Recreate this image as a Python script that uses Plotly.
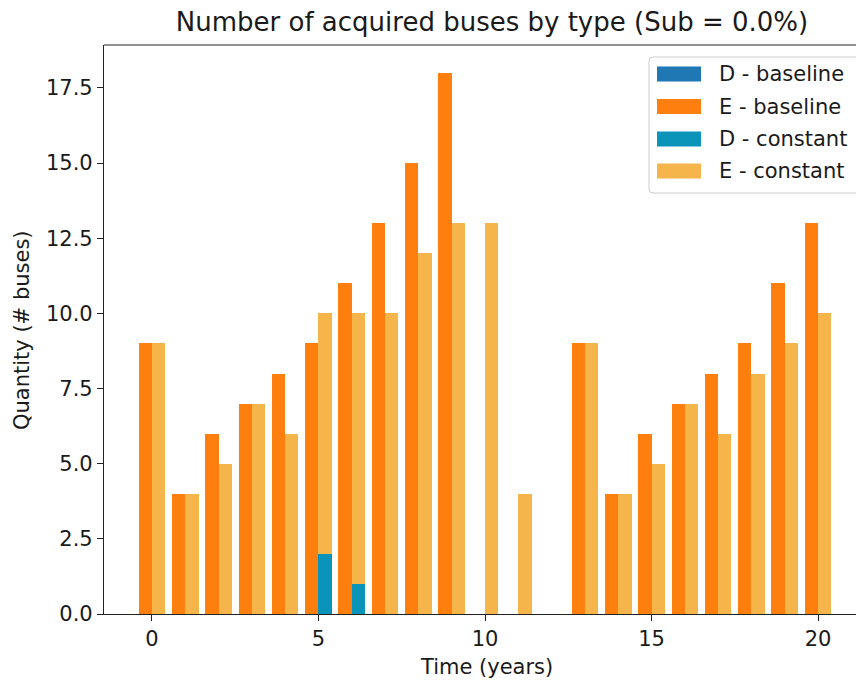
import plotly.graph_objects as go

# Acquired buses per year, by scenario and bus type
years = list(range(0, 21))
d_baseline = [0, 0, 0, 0, 0, 0, 0, 0, 0, 0, 0, 0, 0, 0, 0, 0, 0, 0, 0, 0, 0]
e_baseline = [9, 4, 6, 7, 8, 9, 11, 13, 15, 18, 0, 0, 0, 9, 4, 6, 7, 8, 9, 11, 13]
d_constant = [0, 0, 0, 0, 0, 2, 1, 0, 0, 0, 0, 0, 0, 0, 0, 0, 0, 0, 0, 0, 0]
e_constant = [9, 4, 5, 7, 6, 8, 9, 10, 12, 13, 13, 4, 0, 9, 4, 5, 7, 6, 8, 9, 10]

series_names = ["D - baseline", "E - baseline", "D - constant", "E - constant"]
series_colors = ["#1f77b4", "#ff7f0e", "#0a94b9", "#f5b54b"]

W, H = 856, 682
PL, PR, PT, PB = 104, 856, 45, 614
FONT = "DejaVu Sans"
TXT = "#1a1a1a"
FS = 21


def px(x):
    return (x - PL) / (PR - PL)


def py(y):
    return (PB - y) / (PB - PT)


fig = go.Figure()

bar_w = 0.4
# baseline bars sit left of each year, constant bars to the right; E stacks on D
stacks = [
    (d_baseline, None, -bar_w, series_colors[0], series_names[0]),
    (e_baseline, d_baseline, -bar_w, series_colors[1], series_names[1]),
    (d_constant, None, 0.0, series_colors[2], series_names[2]),
    (e_constant, d_constant, 0.0, series_colors[3], series_names[3]),
]
for vals, base, off, col, name in stacks:
    fig.add_trace(go.Bar(
        x=years, y=vals, base=base if base is not None else [0] * len(vals),
        offset=off, width=bar_w, name=name,
        marker=dict(color=col, line=dict(width=0)),
        showlegend=False,
    ))

axis_common = dict(
    showgrid=False, zeroline=False, showline=True, linecolor="#222222",
    linewidth=1.2, ticks="outside", ticklen=6, tickwidth=1.2,
    tickcolor="#222222", tickfont=dict(family=FONT, size=FS, color=TXT),
)
fig.update_xaxes(range=[-1.44, 21.14], tickvals=[0, 5, 10, 15, 20],
                 mirror=False, **axis_common)
fig.update_yaxes(range=[0, 18.93], tickvals=[0, 2.5, 5, 7.5, 10, 12.5, 15, 17.5],
                 ticktext=["0.0", "2.5", "5.0", "7.5", "10.0", "12.5", "15.0", "17.5"],
                 **axis_common)

shapes = []
# top spine
shapes.append(dict(type="line", xref="paper", yref="paper", x0=0, x1=1.02, y0=1, y1=1,
                   line=dict(color="#222222", width=1.2)))

# legend frame with rounded corners
lx0, lx1, ly0, ly1, r = 649, 866, 57, 193, 4
path = (f"M {px(lx0 + r)} {py(ly0)} L {px(lx1 - r)} {py(ly0)} "
        f"Q {px(lx1)} {py(ly0)} {px(lx1)} {py(ly0 + r)} "
        f"L {px(lx1)} {py(ly1 - r)} Q {px(lx1)} {py(ly1)} {px(lx1 - r)} {py(ly1)} "
        f"L {px(lx0 + r)} {py(ly1)} Q {px(lx0)} {py(ly1)} {px(lx0)} {py(ly1 - r)} "
        f"L {px(lx0)} {py(ly0 + r)} Q {px(lx0)} {py(ly0)} {px(lx0 + r)} {py(ly0)} Z")
shapes.append(dict(type="path", xref="paper", yref="paper", path=path,
                   fillcolor="rgba(255,255,255,0.8)", line=dict(color="#cccccc", width=1)))

annotations = []
row_y = [74, 106.5, 139, 171]
for name, col, yc in zip(series_names, series_colors, row_y):
    shapes.append(dict(type="rect", xref="paper", yref="paper",
                       x0=px(657), x1=px(701), y0=py(yc + 7.5), y1=py(yc - 7.5),
                       fillcolor=col, line=dict(width=0)))
    annotations.append(dict(text=name, xref="paper", yref="paper", x=px(717), y=py(yc),
                            xanchor="left", yanchor="middle", showarrow=False,
                            font=dict(family=FONT, size=FS, color=TXT)))

# axis titles
annotations.append(dict(text="Time (years)", xref="paper", yref="paper",
                        x=px(486), y=py(667), xanchor="center", yanchor="middle",
                        showarrow=False, font=dict(family=FONT, size=FS, color=TXT)))
annotations.append(dict(text="Quantity (# buses)", xref="paper", yref="paper",
                        x=px(22), y=py(330), xanchor="center", yanchor="middle",
                        textangle=-90, showarrow=False,
                        font=dict(family=FONT, size=FS, color=TXT)))

fig.update_layout(
    width=W, height=H,
    margin=dict(l=PL, r=W - PR, t=PT, b=H - PB, pad=0),
    paper_bgcolor="white", plot_bgcolor="white",
    barmode="overlay", bargap=0,
    title=dict(text="Number of acquired buses by type (Sub = 0.0%)",
               x=492 / W, xref="container", xanchor="center",
               y=1 - 22 / H, yref="container", yanchor="middle",
               font=dict(family=FONT, size=26, color=TXT)),
    shapes=shapes, annotations=annotations,
    showlegend=False,
)

fig.write_html("out.html")
